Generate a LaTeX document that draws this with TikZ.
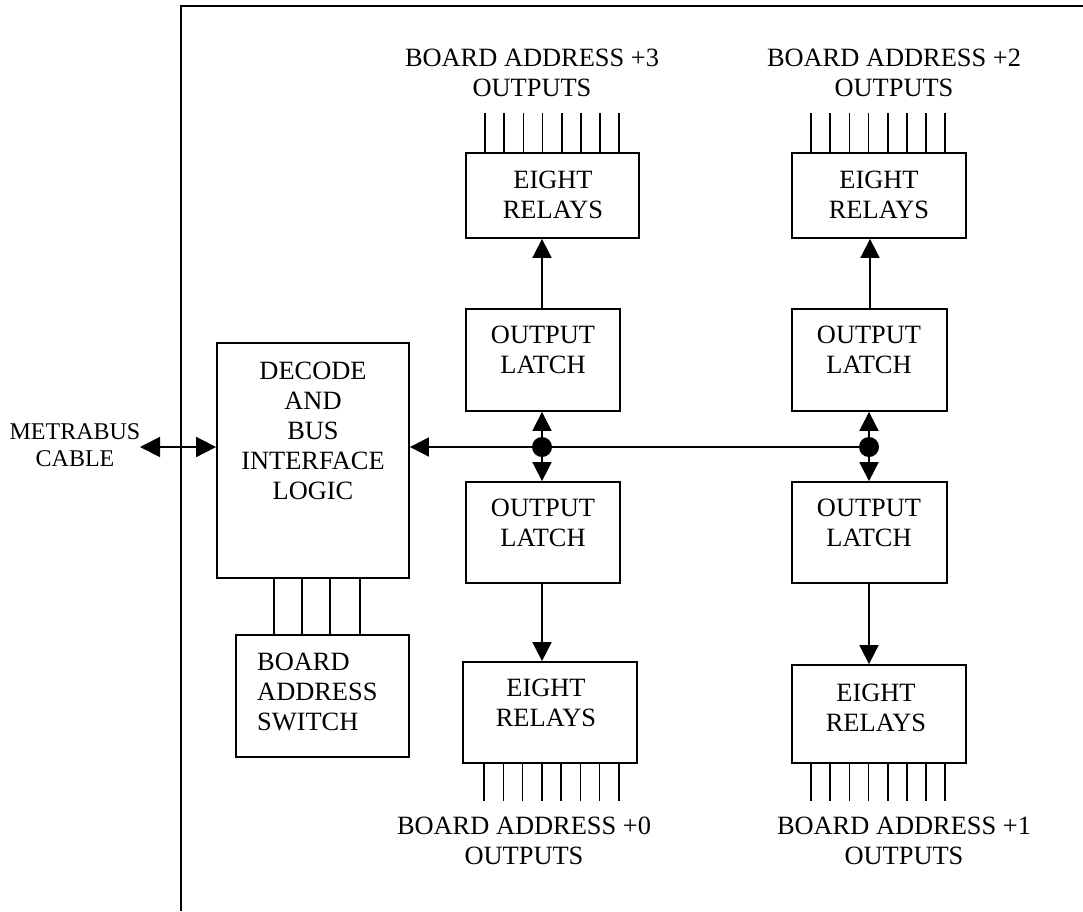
\documentclass[tikz,border=0pt]{standalone}
\usepackage{fontspec}
\setmainfont{Liberation Serif}
\usetikzlibrary{arrows.meta,calc}

\tikzset{
  box/.style={draw, line width=1.8pt, inner sep=0pt, fill=none},
  txt/.style={align=center, inner sep=0pt, font=\fontsize{26.4}{30}\selectfont},
  txtleft/.style={align=left, inner sep=0pt, font=\fontsize{26.4}{30}\selectfont},
  small/.style={align=center, inner sep=0pt, font=\fontsize{24}{26.5}\selectfont},
  wire/.style={line width=1.8pt},
  pin/.style={line width=1.7pt},
  arr/.style={line width=1.8pt, -{Triangle[length=19pt,width=19pt]}},
  darr/.style={line width=1.8pt, {Triangle[length=20pt,width=20pt]}-{Triangle[length=20pt,width=20pt]}},
  junction/.style={circle, fill=black, inner sep=0pt, minimum size=20pt}
}

\begin{document}
\begin{tikzpicture}[x=1pt,y=-1pt]
\useasboundingbox (0,0) rectangle (1083,911);

% board outline
\draw[wire] (1083,6) -- (181,6) -- (181,911);

% decode logic and address switch
\node[box, minimum width=192pt, minimum height=235pt] (dec) at (313,460.5) {};
\node[txt] (dect) at (313,431) {DECODE\\AND\\BUS\\INTERFACE\\LOGIC};
\node[box, minimum width=173pt, minimum height=122pt] (sw) at (322.5,696) {};
\node[txtleft, anchor=west] (swt) at (257,692) {BOARD\\ADDRESS\\SWITCH};
\foreach \x in {274,302,330,360}
  \draw[pin] (\x,578) -- (\x,635);

% cable connection
\node[small] (cab) at (75,445) {METRABUS\\CABLE};
\coordinate (cabend) at (140,447);
\draw[darr] (cabend) -- (dec.west |- cabend);

% output latches
\node[box, minimum width=154pt, minimum height=102pt] (lul) at (543,360) {};
\node[txt] (lult) at (543,350) {OUTPUT\\LATCH};
\node[box, minimum width=154pt, minimum height=101pt] (lll) at (543,532.5) {};
\node[txt] (lllt) at (543,523) {OUTPUT\\LATCH};
\node[box, minimum width=155pt, minimum height=102pt] (lur) at (869.5,360) {};
\node[txt] (lurt) at (869,350) {OUTPUT\\LATCH};
\node[box, minimum width=155pt, minimum height=101pt] (llr) at (869.5,532.5) {};
\node[txt] (llrt) at (869,523) {OUTPUT\\LATCH};

% relay banks
\node[box, minimum width=173pt, minimum height=85pt] (rtl) at (552.5,195.5) {};
\node[txt] (rtlt) at (553,195) {EIGHT\\RELAYS};
\node[box, minimum width=174pt, minimum height=85pt] (rtr) at (879,195.5) {};
\node[txt] (rtrt) at (879,195) {EIGHT\\RELAYS};
\node[box, minimum width=174pt, minimum height=101pt] (rbl) at (550,712.5) {};
\node[txt] (rblt) at (546,703) {EIGHT\\RELAYS};
\node[box, minimum width=174pt, minimum height=98pt] (rbr) at (879,714) {};
\node[txt] (rbrt) at (876,708) {EIGHT\\RELAYS};

% relay output pins
\foreach \i in {0,...,7} {
  \draw[pin] ([xshift=20pt+19.15pt*\i]rtl.north west) -- ++(0,-39);
  \draw[pin] ([xshift=20pt+19.15pt*\i]rtr.north west) -- ++(0,-39);
  \draw[pin] ([xshift=22pt+19.25pt*\i]rbl.south west) -- ++(0,37);
  \draw[pin] ([xshift=20pt+19.15pt*\i]rbr.south west) -- ++(0,37);
}

% output labels
\node[txt] (o3) at (532,73) {BOARD ADDRESS +3\\OUTPUTS};
\node[txt] (o2) at (894,73) {BOARD ADDRESS +2\\OUTPUTS};
\node[txt] (o0) at (524,841) {BOARD ADDRESS +0\\OUTPUTS};
\node[txt] (o1) at (904,841) {BOARD ADDRESS +1\\OUTPUTS};

% internal bus
\node[junction] (jl) at (542,447) {};
\node[junction] (jr) at (869,447) {};
\draw[arr] (jr.center) -- (dec.east |- jr.center);
\draw[arr] (jl.center) -- (jl.center |- lul.south);
\draw[arr] (jl.center) -- (jl.center |- lll.north);
\draw[arr] (jr.center) -- (jr.center |- lur.south);
\draw[arr] (jr.center) -- (jr.center |- llr.north);

% latch to relay drive
\draw[arr] (jl |- lul.north) -- (jl |- rtl.south);
\draw[arr] (jl |- lll.south) -- (jl |- rbl.north);
\draw[arr] ([xshift=1pt]jr |- lur.north) -- ([xshift=1pt]jr |- rtr.south);
\draw[arr] (jr |- llr.south) -- (jr |- rbr.north);
\end{tikzpicture}
\end{document}
